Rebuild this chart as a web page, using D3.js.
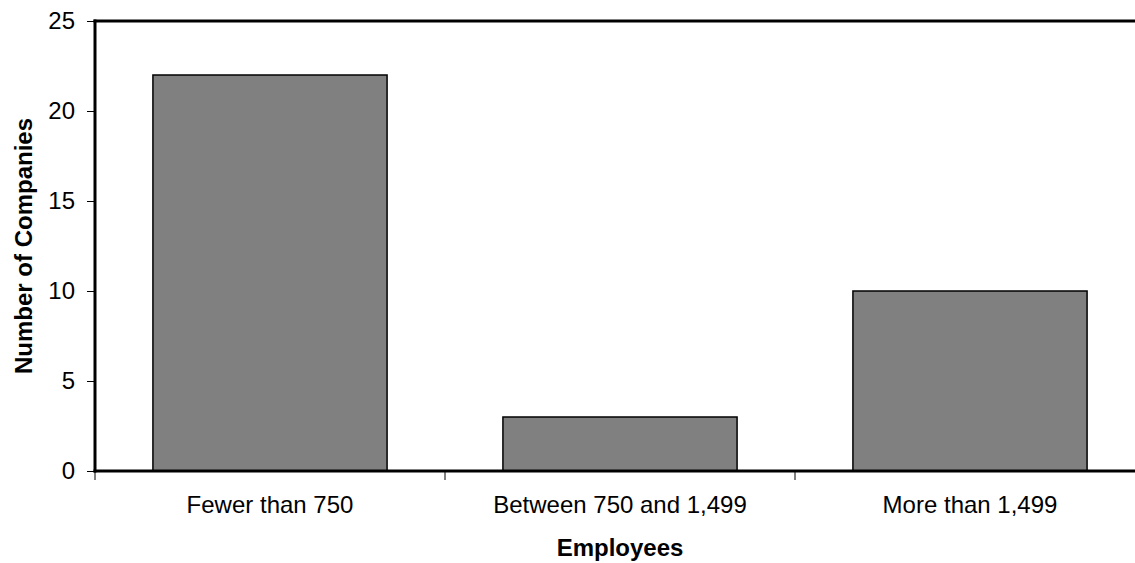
<!DOCTYPE html>
<html>
<head>
<meta charset="utf-8">
<script src="https://cdn.jsdelivr.net/npm/d3@7"></script>
<style>
  html, body { margin: 0; padding: 0; background: #fff; }
  svg { display: block; }
  text { font-family: "Liberation Sans", Arial, sans-serif; fill: #000; }
</style>
</head>
<body>
<svg id="chart" width="1135" height="563"></svg>
<script>
const categories = ["Fewer than 750", "Between 750 and 1,499", "More than 1,499"];
const values = [22, 3, 10];
const yTicks = [0, 5, 10, 15, 20, 25];
const xTitle = "Employees";
const yTitle = "Number of Companies";

(function () {
const svg = d3.select("#chart");
const mLeft = 95, mRight = 1145, mTop = 21, mBottom = 471;

const x = d3.scaleBand().domain(categories).range([mLeft, mRight])
  .paddingInner(0.331).paddingOuter(0.1655);
const xBand = d3.scaleBand().domain(categories).range([mLeft, mRight]).padding(0);
const y = d3.scaleLinear().domain([0, 25]).range([mBottom, mTop]);

// bars
svg.append("g").selectAll("rect").data(values).join("rect")
  .attr("x", (d, i) => x(categories[i]))
  .attr("y", d => y(d))
  .attr("width", x.bandwidth())
  .attr("height", d => y(0) - y(d))
  .attr("fill", "#808080")
  .attr("stroke", "#000")
  .attr("stroke-width", 1.5);

// y axis
const yAxis = svg.append("g").attr("transform", `translate(${mLeft},0)`)
  .call(d3.axisLeft(y).tickValues(yTicks).tickSize(8).tickPadding(12).tickFormat(d3.format("d")));
yAxis.select(".domain").remove();
yAxis.selectAll(".tick line").attr("stroke", "#000").attr("stroke-width", 1);
yAxis.selectAll(".tick text").style("font-size", "24px")
  .style("font-family", "'Liberation Sans', Arial, sans-serif");

// x axis labels
const xAxis = svg.append("g").attr("transform", `translate(0,${mBottom})`)
  .call(d3.axisBottom(xBand).tickSize(0).tickPadding(25));
xAxis.select(".domain").remove();
xAxis.selectAll(".tick text").style("font-size", "24px")
  .style("font-family", "'Liberation Sans', Arial, sans-serif")
  .attr("dy", "0.71em");

// x boundary ticks
const bounds = categories.map(c => xBand(c)).concat([xBand(categories[categories.length - 1]) + xBand.bandwidth()]);
svg.append("g").selectAll("line").data(bounds).join("line")
  .attr("x1", d => d).attr("x2", d => d)
  .attr("y1", mBottom).attr("y2", mBottom + 9)
  .attr("stroke", "#000").attr("stroke-width", 1);

// axis lines
svg.append("line").attr("x1", mLeft).attr("x2", mLeft).attr("y1", mTop - 1.5).attr("y2", mBottom + 1.5)
  .attr("stroke", "#000").attr("stroke-width", 3);
svg.append("line").attr("x1", mLeft - 1.5).attr("x2", mRight).attr("y1", mTop).attr("y2", mTop)
  .attr("stroke", "#000").attr("stroke-width", 3);
svg.append("line").attr("x1", mLeft - 1.5).attr("x2", mRight).attr("y1", mBottom).attr("y2", mBottom)
  .attr("stroke", "#000").attr("stroke-width", 3);

// titles
svg.append("text").attr("x", (mLeft + mRight) / 2).attr("y", 556)
  .attr("text-anchor", "middle").style("font-size", "24px").style("font-weight", "bold")
  .text(xTitle);
svg.append("text").attr("transform", `translate(32,${(mTop + mBottom) / 2}) rotate(-90)`)
  .attr("text-anchor", "middle").style("font-size", "24px").style("font-weight", "bold")
  .text(yTitle);
})();
</script>
</body>
</html>
